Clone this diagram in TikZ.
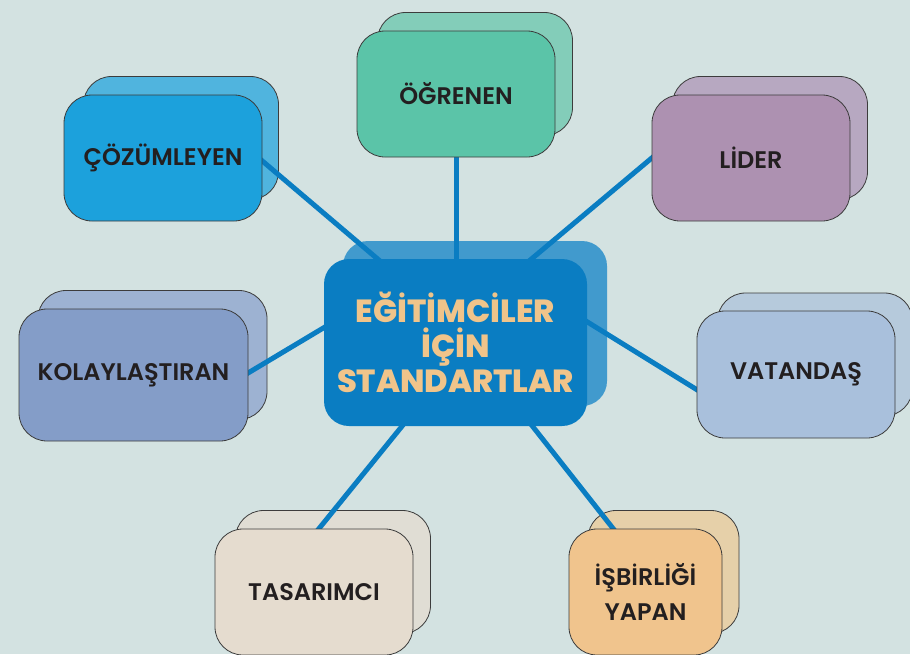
\documentclass[tikz,border=0pt]{standalone}
\usepackage{fontspec}
\setmainfont{Poppins}
\newfontfamily\satfont{Poppins SemiBold}
\newfontfamily\ctrfont{Poppins ExtraBold}
\usetikzlibrary{calc}
\pgfdeclarelayer{backl}
\pgfdeclarelayer{midl}
\pgfsetlayers{backl,midl,main}
\definecolor{bg}{HTML}{D3E2E1}
\definecolor{edgec}{HTML}{3C3C3C}
\definecolor{txt}{HTML}{231F20}
\definecolor{spokec}{HTML}{0A7DC2}
\definecolor{cfront}{HTML}{0A7DC2}
\definecolor{cback}{HTML}{419ACD}
\definecolor{peach}{HTML}{F0C48A}
\definecolor{cozf}{HTML}{1CA1DC}
\definecolor{cozb}{HTML}{50B4DE}
\definecolor{ogrf}{HTML}{5BC4A8}
\definecolor{ogrb}{HTML}{83CDB9}
\definecolor{lidf}{HTML}{AD91B1}
\definecolor{lidb}{HTML}{B7A8C1}
\definecolor{kolf}{HTML}{849DC8}
\definecolor{kolb}{HTML}{9DB2D2}
\definecolor{vatf}{HTML}{A9C0DC}
\definecolor{vatb}{HTML}{B6CADC}
\definecolor{tasf}{HTML}{E5DCCF}
\definecolor{tasb}{HTML}{E0DDD4}
\definecolor{isbf}{HTML}{F0C48D}
\definecolor{isbb}{HTML}{E6D0A9}
\begin{document}
\begin{tikzpicture}[x=1pt,y=-1pt,
  box/.style={rectangle, rounded corners=28pt, draw=edgec, line width=0.8pt, inner sep=0pt,
    align=center, text=txt, font=\satfont\fontsize{24}{35}\selectfont,
    minimum width=198pt, minimum height=126pt},
  backbox/.style={box, minimum width=195pt, minimum height=123pt},
  spoke/.style={draw=spokec, line width=5pt},
  centerbox/.style={rectangle, rounded corners=25pt, inner sep=0pt, align=center,
    minimum width=263pt, minimum height=167pt}]
\useasboundingbox (0,0) rectangle (910,654);
\begin{pgfonlayer}{backl}
\fill[bg] (0,0) rectangle (910,654);
\end{pgfonlayer}

% center
\node[centerbox, fill=cfront, text=peach, font=\ctrfont\fontsize{32}{35}\selectfont] (ctr) at (455.5,342.5) {EĞİTİMCİLER\\İÇİN\\STANDARTLAR};

% satellites (front)
\node[box, fill=cozf] (coz) at (163,158) {ÇÖZÜMLEYEN};
\node[box, fill=ogrf] (ogr) at (456,94) {ÖĞRENEN};
\node[box, fill=lidf] (lid) at (751,158) {LİDER};
\node[box, fill=kolf, minimum width=229pt, minimum height=132pt] (kol) at (133.5,375) {KOLAYLAŞTIRAN};
\node[box, fill=vatf, minimum height=127pt] (vat) at (796,374.5) {VATANDAŞ};
\node[box, fill=tasf] (tas) at (314,592) {TASARIMCI};
\node[box, fill=isbf, minimum width=153pt] (isb) at (645.5,592) {İŞBİRLİĞİ\\YAPAN};

% back copies
\begin{pgfonlayer}{backl}
\node[centerbox, fill=cback, minimum width=264pt, minimum height=165pt] (ctrb) at ($(ctr.center)+(19.5,-19)$) {};
\node[backbox, fill=cozb] (cozk) at ($(coz.center)+(18,-20)$) {};
\node[backbox, fill=ogrb] (ogrk) at ($(ogr.center)+(19,-20)$) {};
\node[backbox, fill=lidb] (lidk) at ($(lid.center)+(19,-20)$) {};
\node[backbox, fill=kolb, minimum width=229pt, minimum height=129pt] (kolk) at ($(kol.center)+(19,-20)$) {};
\node[backbox, fill=vatb] (vatk) at ($(vat.center)+(19,-20)$) {};
\node[backbox, fill=tasb] (task) at ($(tas.center)+(19,-20)$) {};
\node[backbox, fill=isbb, minimum width=151pt] (isbk) at ($(isb.center)+(18,-20)$) {};
\end{pgfonlayer}

% spokes
\begin{pgfonlayer}{midl}
\coordinate (e1) at (240,142);
\coordinate (c1) at (400,278);
\coordinate (e2) at (456,140);
\coordinate (c2) at (456,280);
\coordinate (e3) at (672,141);
\coordinate (c3) at (510,277);
\coordinate (e4) at (228,385);
\coordinate (c4) at (345,315);
\coordinate (e5) at (720,404);
\coordinate (c5) at (560,305);
\coordinate (e6) at (300,552);
\coordinate (c6) at (420,404);
\coordinate (e7) at (630,550);
\coordinate (c7) at (515,404);
\draw[spoke] (e1) -- (c1);
\draw[spoke] (e2) -- (c2);
\draw[spoke] (e3) -- (c3);
\draw[spoke] (e4) -- (c4);
\draw[spoke] (e5) -- (c5);
\draw[spoke] (e6) -- (c6);
\draw[spoke] (e7) -- (c7);
\end{pgfonlayer}
\end{tikzpicture}
\end{document}
